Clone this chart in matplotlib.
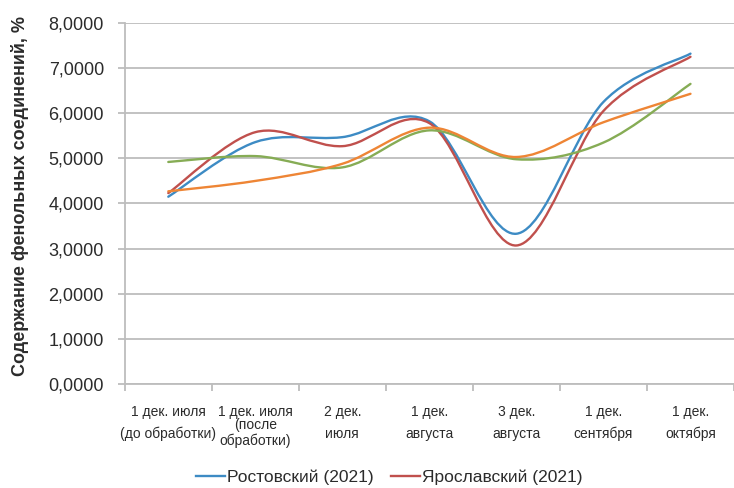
import matplotlib.pyplot as plt
import numpy as np
from matplotlib.path import Path
from matplotlib.patches import PathPatch
from matplotlib.lines import Line2D
from matplotlib.transforms import blended_transform_factory

plt.rcParams['font.family'] = ['Liberation Sans', 'DejaVu Sans']

# category labels, one list of lines per column
categories = [
    ["1 дек. июля", "(до обработки)"],
    ["1 дек. июля", "(после", "обработки)"],
    ["2 дек.", "июля"],
    ["1 дек.", "августа"],
    ["3 дек.", "августа"],
    ["1 дек.", "сентября"],
    ["1 дек.", "октября"],
]

rostov = [4.15, 5.36, 5.47, 5.82, 3.33, 6.25, 7.32]
yaroslavl = [4.23, 5.58, 5.27, 5.78, 3.07, 6.05, 7.25]
series_3 = [4.92, 5.05, 4.80, 5.62, 4.98, 5.35, 6.65]
series_4 = [4.27, 4.50, 4.88, 5.68, 5.03, 5.80, 6.43]

names = ["Ростовский (2021)", "Ярославский (2021)"]
colors = ["#3D8BC4", "#C0504D", "#86AC55", "#EE8535"]

yticks = np.arange(0, 9, 1)


def smooth_path(ys):
    # Excel-style smoothed line: cubic Bezier through each point,
    # control handles taken from the neighbouring points
    xs = np.arange(len(ys), dtype=float)
    pts = np.column_stack([xs, np.asarray(ys, dtype=float)])
    verts = [pts[0]]
    codes = [Path.MOVETO]
    n = len(pts)
    for i in range(n - 1):
        p0 = pts[i - 1] if i > 0 else pts[i]
        p1 = pts[i]
        p2 = pts[i + 1]
        p3 = pts[i + 2] if i + 2 < n else pts[i + 1]
        c1 = p1 + (p2 - p0) / 6.0
        c2 = p2 - (p3 - p1) / 6.0
        verts += [c1, c2, p2]
        codes += [Path.CURVE4] * 3
    return Path(verts, codes)


fig = plt.figure(figsize=(7.34, 4.88), dpi=100)
ax = fig.add_axes([0.170, 0.213, 0.830, 0.740])

for ys, c in zip([rostov, yaroslavl, series_3, series_4], colors):
    ax.add_patch(PathPatch(smooth_path(ys), facecolor="none",
                           edgecolor=c, lw=1.7, capstyle="round", zorder=3))

ax.set_xlim(-0.5, len(categories) - 0.5)
ax.set_ylim(0, 8)
ax.set_yticks(yticks)
ax.set_yticklabels([f"{v:.4f}".replace(".", ",") for v in yticks],
                   fontsize=13, color="#2b2b2b")
ax.yaxis.grid(True, color="#BDBDBD", lw=1.3)
ax.set_axisbelow(True)

for s in ["top", "right"]:
    ax.spines[s].set_visible(False)
for s in ["left", "bottom"]:
    ax.spines[s].set_color("#BDBDBD")
    ax.spines[s].set_linewidth(1.3)

ax.tick_params(axis="y", length=5, color="#BDBDBD", width=1.3, pad=10)
ax.set_xticks(np.arange(-0.5, len(categories), 1.0))
ax.set_xticklabels([])
ax.tick_params(axis="x", length=5, color="#BDBDBD", width=1.3)

# category labels under the axis
trans = blended_transform_factory(ax.transData, fig.transFigure)
for i, lines in enumerate(categories):
    if len(lines) == 2:
        ys_fig = [1 - 412 / 488, 1 - 434 / 488]
    else:
        ys_fig = [1 - 412 / 488, 1 - 425 / 488, 1 - 441 / 488]
    for line, yf in zip(lines, ys_fig):
        ax.text(i, yf, line, transform=trans, ha="center", va="center",
                fontsize=10, color="#2b2b2b")

ax.set_ylabel("Содержание фенольных соединений, %", fontsize=13,
              fontweight="bold", color="#2b2b2b")
ax.yaxis.set_label_coords(-0.157, 0.52)

handles = [Line2D([], [], color=c, lw=1.7) for c in colors[:2]]
fig.legend(handles, names, loc="center", bbox_to_anchor=(0.53, 0.022),
           ncol=2, frameon=False, fontsize=12.5, handlelength=1.7,
           handletextpad=0.1, columnspacing=1.0, labelcolor="#2b2b2b")

fig.savefig("out.png", dpi=100)
